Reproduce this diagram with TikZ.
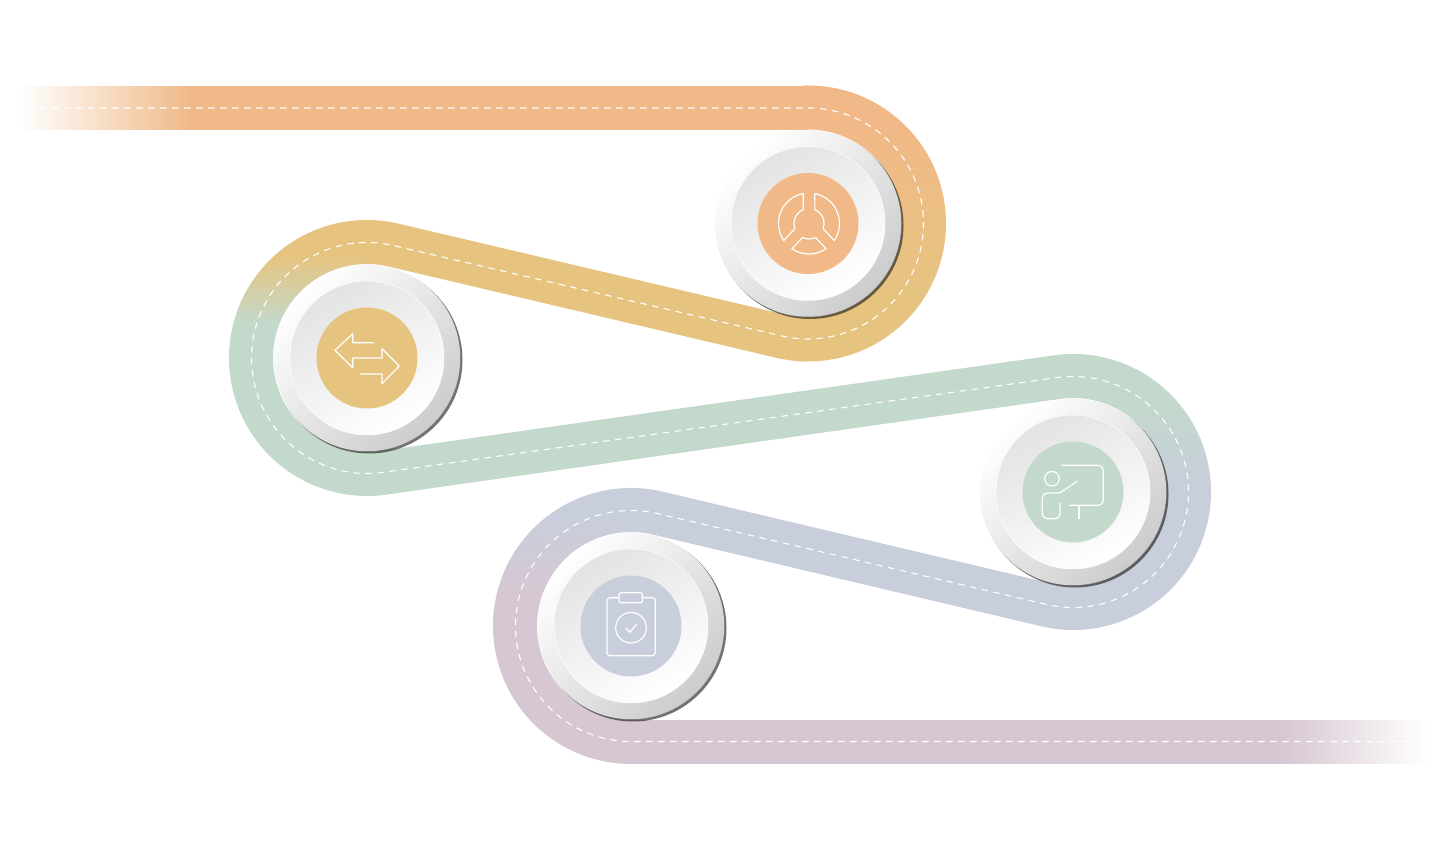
\documentclass[tikz,border=0pt]{standalone}
\usepackage{xcolor}
\usetikzlibrary{calc}

\definecolor{roadorange}{HTML}{F0B987}
\definecolor{roadyellow}{HTML}{E6C480}
\definecolor{roadgreen}{HTML}{C3D9CB}
\definecolor{roadblue}{HTML}{C8CEDB}
\definecolor{roadmauve}{HTML}{D7C7D2}

\pgfdeclareverticalshading{bendone}{100bp}{color(0bp)=(roadyellow); color(36bp)=(roadyellow); color(67bp)=(roadorange); color(100bp)=(roadorange)}
\pgfdeclareverticalshading{bendtwo}{100bp}{color(0bp)=(roadgreen); color(56bp)=(roadgreen); color(68bp)=(roadyellow); color(100bp)=(roadyellow)}
\pgfdeclareverticalshading{bendthree}{100bp}{color(0bp)=(roadblue); color(50bp)=(roadblue); color(67bp)=(roadgreen); color(100bp)=(roadgreen)}
\pgfdeclareverticalshading{bendfour}{100bp}{color(0bp)=(roadmauve); color(55bp)=(roadmauve); color(69bp)=(roadblue); color(100bp)=(roadblue)}

\begin{document}
\begin{tikzpicture}[x=1pt,y=1pt,
    road/.style={line width=44pt},
    centre line/.style={white,line width=1.1pt,dash pattern=on 6.5pt off 5.5pt},
    shadow disc/.style={circle,inner sep=0pt,minimum size=187pt,fill=black,opacity=0.55},
    outer disc/.style={circle,inner sep=0pt,minimum size=186.5pt,top color=white,bottom color=black!20,shading angle=45},
    inner disc/.style={circle,inner sep=0pt,minimum size=154pt,draw=white,line width=0.5pt,top color=black!11,bottom color=white,shading angle=30},
    icon disc/.style={circle,inner sep=0pt,minimum size=101pt},
    icon line/.style={white,line width=1.2pt,line join=round}]
    \useasboundingbox (0,0) rectangle (1440,850);

    \coordinate (c1) at (808,626.5);
    \coordinate (c2) at (367,492);
    \coordinate (c3) at (1073,358);
    \coordinate (c4) at (631,224);

    \shade[left color=white,right color=roadorange] (20,720.5) rectangle (191,763.5);
    \shade[left color=roadmauve,right color=white] (1283,86.5) rectangle (1428,129.5);
    \shade[shift={(c1)},shading=bendone] (92:138) arc[start angle=92,end angle=-92,radius=138] -- (-92:94) arc[start angle=-92,end angle=92,radius=94] -- cycle;
    \shade[shift={(c2)},shading=bendtwo] (88:138) arc[start angle=88,end angle=272,radius=138] -- (272:94) arc[start angle=272,end angle=88,radius=94] -- cycle;
    \shade[shift={(c3)},shading=bendthree] (92:138) arc[start angle=92,end angle=-92,radius=138] -- (-92:94) arc[start angle=-92,end angle=92,radius=94] -- cycle;
    \shade[shift={(c4)},shading=bendfour] (88:138) arc[start angle=88,end angle=272,radius=138] -- (272:94) arc[start angle=272,end angle=88,radius=94] -- cycle;

    \draw[road,roadorange] (190,742) -- ($(c1)+(90:115.5)$);
    \draw[road,roadyellow] ($(c1)+(-90:116)$) arc[start angle=-90,end angle=-103.32,radius=116] -- ($(c2)+(76.68:116)$) arc[start angle=76.68,end angle=90,radius=116];
    \draw[road,roadgreen] ($(c2)+(-90:116)$) arc[start angle=-90,end angle=-81.92,radius=116] -- ($(c3)+(98.08:116)$) arc[start angle=98.08,end angle=90,radius=116];
    \draw[road,roadblue] ($(c3)+(-90:116)$) arc[start angle=-90,end angle=-103.15,radius=116] -- ($(c4)+(76.85:116)$) arc[start angle=76.85,end angle=90,radius=116];
    \draw[road,roadmauve] ($(c4)+(-90:116)$) -- (1284,108);

    \draw[centre line] (40,742) -- ($(c1)+(90:115.5)$)
        arc[start angle=90,end angle=-103.32,radius=115.5] -- ($(c2)+(76.68:115.5)$)
        arc[start angle=76.68,end angle=278.08,radius=115.5] -- ($(c3)+(98.08:115.5)$)
        arc[start angle=98.08,end angle=-103.15,radius=115.5] -- ($(c4)+(76.85:115.5)$)
        arc[start angle=76.85,end angle=270,radius=115.5] -- (1410,108.5);

    \node[shadow disc] (s1) at ($(c1)+(2,-2)$) {};
    \node[shadow disc] (s2) at ($(c2)+(2,-2)$) {};
    \node[shadow disc] (s3) at ($(c3)+(2,-2)$) {};
    \node[shadow disc] (s4) at ($(c4)+(2,-2)$) {};

    \node[outer disc] (o1) at (c1) {};
    \node[outer disc] (o2) at (c2) {};
    \node[outer disc] (o3) at (c3) {};
    \node[outer disc] (o4) at (c4) {};

    \node[inner disc] (i1) at (c1) {};
    \node[inner disc] (i2) at (c2) {};
    \node[inner disc] (i3) at (c3) {};
    \node[inner disc] (i4) at (c4) {};

    \node[icon disc,fill=roadorange] (d1) at (c1) {};
    \node[icon disc,fill=roadyellow] (d2) at (c2) {};
    \node[icon disc,fill=roadgreen] (d3) at (c3) {};
    \node[icon disc,fill=roadblue] (d4) at (c4) {};

    \begin{scope}[shift={(809,626.5)},icon line]
        \draw (101:30.5) arc[start angle=101,end angle=214,radius=30.5] -- (200:15) arc[start angle=200,end angle=113,radius=15] -- cycle;
        \draw (79:30.5) arc[start angle=79,end angle=-34,radius=30.5] -- (-20:15) arc[start angle=-20,end angle=67,radius=15] -- cycle;
        \draw (236:30.5) arc[start angle=236,end angle=304,radius=30.5] -- (295:15.5) arc[start angle=295,end angle=245,radius=15.5] -- cycle;
    \end{scope}

    \begin{scope}[shift={(c2)},icon line]
        \draw (6.7,15.3) -- (-14.3,15.3) -- (-14.3,24.3) -- (-32,7.7) -- (-14.3,-9.7) -- (-14.3,0) -- (15,0) -- (15,9.3) -- (32.3,-8) -- (15,-25.7) -- (15,-16) -- (-6.7,-16);
    \end{scope}

    \begin{scope}[shift={(c3)},icon line]
        \draw[rounded corners=5pt] (-11.7,26.7) -- (30.3,26.7) -- (30.3,-13.3) -- (-4,-13.3);
        \draw (6,-13.3) -- (6,-26.7);
        \draw (-21,13.3) circle[radius=7.3];
        \draw (4.3,10.7) -- (-13.3,-1) [rounded corners=5pt] -- (-30.7,-1) -- (-30.7,-26.7) -- (-13,-26.7) -- (-13,-11);
    \end{scope}

    \begin{scope}[shift={(c4)},icon line]
        \draw[rounded corners=3pt] (-12,28.3) -- (-24,28.3) -- (-24,-29.7) -- (24.3,-29.7) -- (24.3,28.3) -- (11.3,28.3);
        \draw[rounded corners=1.5pt] (-12,23.3) rectangle (11.3,33.3);
        \draw (0,-1.7) circle[radius=15.3];
        \draw (-5.3,-1.7) -- (-1.3,-6.3) -- (5.7,1.7);
    \end{scope}
\end{tikzpicture}
\end{document}
